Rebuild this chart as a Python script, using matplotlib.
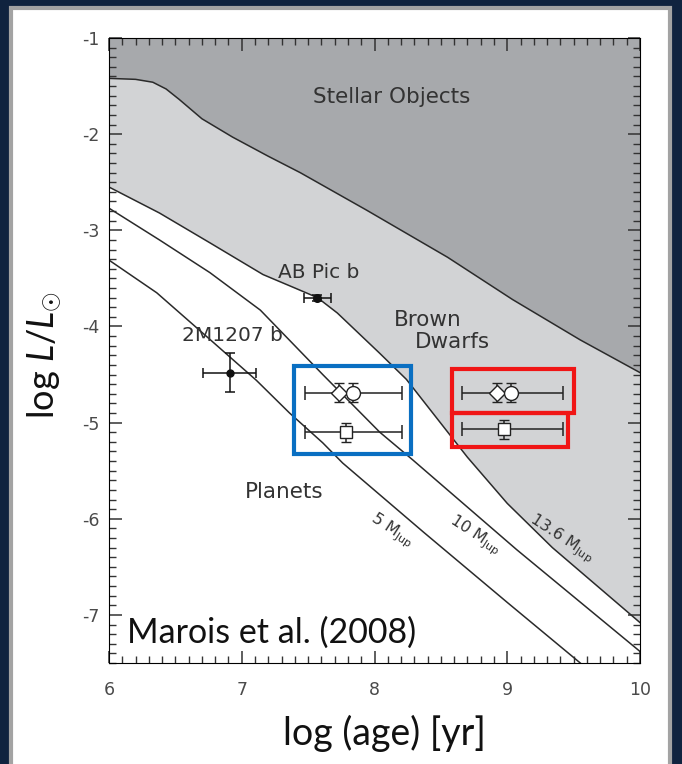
import numpy as np
import matplotlib
matplotlib.use('Agg')
import matplotlib.pyplot as plt
from matplotlib.patches import Rectangle

plt.rcParams['mathtext.fontset'] = 'custom'
plt.rcParams['mathtext.rm'] = 'Lato'
plt.rcParams['mathtext.it'] = 'Lato:italic'
plt.rcParams['axes.unicode_minus'] = False

# ---------------- data ----------------
stellar_x = [6.0, 6.2, 6.33, 6.43, 6.53, 6.7, 6.93, 7.2, 7.44, 7.94, 8.55, 9.04, 9.55, 10.0]
stellar_y = [-1.42, -1.43, -1.46, -1.53, -1.64, -1.84, -2.03, -2.23, -2.40, -2.79, -3.28, -3.72, -4.14, -4.48]

m136_x = [6.00, 6.38, 6.76, 7.16, 7.40, 7.57, 7.72, 8.04, 8.24, 8.70, 9.00, 9.34, 10.00]
m136_y = [-2.55, -2.82, -3.13, -3.46, -3.60, -3.70, -3.86, -4.28, -4.55, -5.36, -5.84, -6.30, -7.08]

m10_x = [6.0, 6.38, 6.76, 7.14, 7.61, 8.04, 8.29, 9.07, 10.0]
m10_y = [-2.77, -3.10, -3.44, -3.83, -4.50, -5.10, -5.39, -6.32, -7.38]

m5_x = [6.0, 6.36, 6.74, 7.11, 7.36, 7.61, 7.76, 8.37, 9.00, 9.55]
m5_y = [-3.31, -3.65, -4.11, -4.56, -4.90, -5.21, -5.42, -6.14, -6.87, -7.50]

# companions
abpic = dict(age=7.57, L=-3.70, age_err=0.10, L_err=0.03)
m1207 = dict(age=6.91, L=-4.48, age_err=0.20, L_err=0.20)

# HR 8799 (two age assumptions)
hr_age = [7.785, 8.975]
hr_age_lo = [7.48, 8.66]
hr_age_hi = [8.21, 9.42]
hr_L_cd = [-4.69, -4.69]
hr_L_b = [-5.10, -5.07]
hr_L_err = 0.10

x_ticks = [6, 7, 8, 9, 10]
y_ticks = [-7, -6, -5, -4, -3, -2, -1]

# ---------------- figure ----------------
W, H = 682, 764
fig = plt.figure(figsize=(W / 100, H / 100), dpi=100)
fig.patch.set_facecolor('#10233f')
panel = Rectangle((11 / W, -0.02), (670 - 11) / W, 1 - 7.5 / H + 0.02,
                  transform=fig.transFigure, facecolor='white',
                  edgecolor='#a3a3a3', linewidth=3, zorder=-10)
fig.add_artist(panel)

ax = fig.add_axes([109 / W, 1 - 663 / H, (640 - 109) / W, (663 - 38) / H])
ax.set_xlim(6, 10)
ax.set_ylim(-7.5, -1)
ymax = -1

line_c = '#2a2a2a'
ax.fill_between(stellar_x, stellar_y, ymax, color='#a7a9ac', lw=0, zorder=1)
ax.fill(list(stellar_x) + list(m136_x)[::-1], list(stellar_y) + list(m136_y)[::-1],
        color='#d2d3d5', lw=0, zorder=1)
for xs, ys in [(stellar_x, stellar_y), (m136_x, m136_y), (m10_x, m10_y), (m5_x, m5_y)]:
    ax.plot(xs, ys, color=line_c, lw=1.1, zorder=2, solid_joinstyle='round')

# companions
for c, ms in [(abpic, 5.5), (m1207, 5)]:
    ax.errorbar(c['age'], c['L'], xerr=c['age_err'], yerr=c['L_err'], fmt='o',
                color='#111111', ms=ms, elinewidth=1.1, capsize=3.5, capthick=1.1, zorder=4)

# HR 8799
off = 0.055
ec = '#222222'
for i in range(len(hr_age)):
    for L in (hr_L_cd[i], hr_L_b[i]):
        ax.errorbar(hr_age[i], L,
                    xerr=[[hr_age[i] - hr_age_lo[i]], [hr_age_hi[i] - hr_age[i]]],
                    fmt='none', ecolor=ec, elinewidth=1.1, capsize=5, capthick=1.1, zorder=3)
    ax.errorbar(hr_age[i] - off, hr_L_cd[i], yerr=hr_L_err, fmt='D', mfc='white', mec=ec,
                ms=8.5, mew=1.0, ecolor=ec, elinewidth=1.1, capsize=3.5, capthick=1.1, zorder=4)
    ax.errorbar(hr_age[i] + off, hr_L_cd[i], yerr=hr_L_err, fmt='o', mfc='white', mec=ec,
                ms=10, mew=1.0, ecolor=ec, elinewidth=1.1, capsize=3.5, capthick=1.1, zorder=4)
    ax.errorbar(hr_age[i], hr_L_b[i], yerr=hr_L_err, fmt='s', mfc='white', mec=ec,
                ms=8.5, mew=1.0, ecolor=ec, elinewidth=1.1, capsize=3.5, capthick=1.1, zorder=4)

# highlight boxes
padx = 0.085
blue = Rectangle((hr_age_lo[0] - padx, hr_L_b[0] - 0.23),
                 hr_age_hi[0] - hr_age_lo[0] + 2 * padx - 0.02, (hr_L_cd[0] + 0.28) - (hr_L_b[0] - 0.23),
                 fill=False, edgecolor='#0a6fc2', lw=3, zorder=5, joinstyle='miter')
ax.add_patch(blue)
red1 = Rectangle((hr_age_lo[1] - padx + 0.01, hr_L_cd[1] - 0.21),
                 hr_age_hi[1] - hr_age_lo[1] + 2 * padx - 0.01, 0.46,
                 fill=False, edgecolor='#f01515', lw=3, zorder=5, joinstyle='miter')
red2 = Rectangle((hr_age_lo[1] - padx + 0.01, hr_L_b[1] - 0.18),
                 hr_age_hi[1] - hr_age_lo[1] + 2 * padx - 0.06, 0.35,
                 fill=False, edgecolor='#f01515', lw=3, zorder=5, joinstyle='miter')
ax.add_patch(red1)
ax.add_patch(red2)

# region / object labels
tc = '#333333'
ax.text(8.13, -1.61, 'Stellar Objects', ha='center', va='center', fontsize=15.5, color=tc)
ax.text(8.40, -3.93, 'Brown', ha='center', va='center', fontsize=15.5, color=tc)
ax.text(8.59, -4.16, 'Dwarfs', ha='center', va='center', fontsize=15.5, color=tc)
ax.text(7.58, -3.44, 'AB Pic b', ha='center', va='center', fontsize=14.5, color=tc)
ax.text(6.93, -4.09, '2M1207 b', ha='center', va='center', fontsize=14.5, color=tc)
ax.text(7.32, -5.72, 'Planets', ha='center', va='center', fontsize=15.5, color=tc)
for lx, ly, lab in [(8.13, -6.12, '5'), (8.76, -6.17, '10'), (9.41, -6.20, '13.6')]:
    ax.text(lx, ly, lab + r' M$_{\mathrm{Jup}}$', ha='center', va='center', fontsize=11.5,
            color=tc, rotation=-33, rotation_mode='anchor', math_fontfamily='dejavusans')

# slide texts
fig.text(384 / W, 1 - 733 / H, 'log (age) [yr]', ha='center', va='center',
         fontsize=27, family='Lato', color='#111111')
fig.text(45 / W, 1 - 355 / H, r'log $\mathit{L}/\mathit{L}_{\odot}$', ha='center', va='center',
         rotation=90, fontsize=26, family='Lato', color='#111111')
fig.text(127 / W, 1 - 633 / H, 'Marois et al. (2008)', ha='left', va='center',
         fontsize=24.5, family='Lato', color='#111111')

# axes styling (last)
ax.set_xticks(x_ticks)
ax.set_yticks(y_ticks)
ax.xaxis.set_minor_locator(matplotlib.ticker.MultipleLocator(0.1))
ax.yaxis.set_minor_locator(matplotlib.ticker.MultipleLocator(0.1))
ax.tick_params(which='both', direction='in', top=True, right=True, color='#333333')
ax.tick_params(which='major', length=9, width=1.1, labelsize=12.5, labelcolor='#4a4a4a')
ax.tick_params(which='minor', length=5, width=1.0)
ax.xaxis.set_tick_params(which='major', pad=13)
ax.yaxis.set_tick_params(which='major', pad=7)

fig.savefig('out.png', dpi=100, facecolor=fig.get_facecolor())
